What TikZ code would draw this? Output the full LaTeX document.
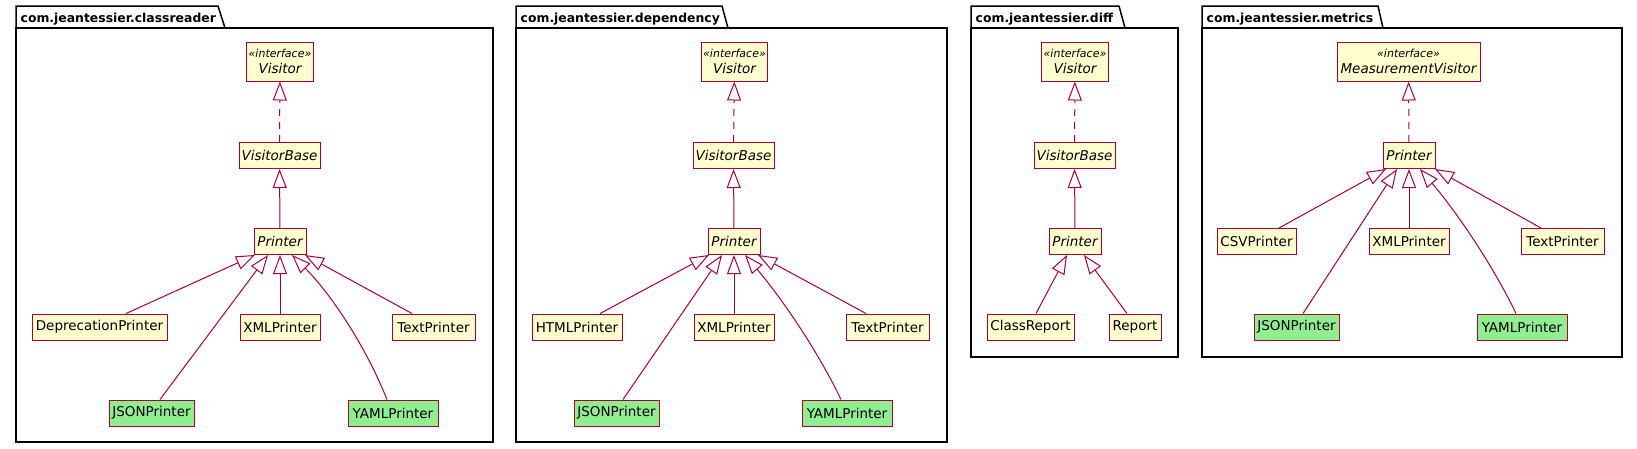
\documentclass[tikz,border=0pt]{standalone}
\usepackage{fontspec}
\setmainfont{DejaVu Sans}
\usetikzlibrary{arrows.meta}
\definecolor{umlred}{HTML}{A80036}
\definecolor{umlyellow}{HTML}{FEFECE}
\definecolor{umlgreen}{HTML}{90EE90}
\tikzset{
  cls/.style={draw=umlred, fill=umlyellow, line width=1pt, minimum height=26pt,
    inner xsep=2pt, inner ysep=0pt, font=\fontsize{13.5}{16}\selectfont},
  grn/.style={cls, fill=umlgreen},
  abs/.style={cls, font=\fontsize{13.5}{16}\selectfont\itshape},
  ifc/.style={cls, minimum height=39pt, align=center, font=\fontsize{13.5}{16}\selectfont\itshape},
  ext/.style={draw=umlred, line width=1pt, -{Triangle[open, length=19pt, width=14pt]}},
  impl/.style={ext, dash pattern=on 7pt off 6pt},
  pkg/.style={draw=black, line width=1.5pt},
  pkgtitle/.style={anchor=base west, inner sep=0pt, font=\fontsize{12.4}{14}\selectfont\bfseries},
}
\newcommand{\stereo}[1]{{\fontsize{11}{12}\selectfont #1}}
\begin{document}
\begin{tikzpicture}[x=1pt, y=-1pt]
\fill[white] (0,0) rectangle (1637,448);
\useasboundingbox (0,0) rectangle (1637,448);

% ---------- packages ----------
\draw[pkg] (16,28) -- (16,6) -- (218,6) -- (225,28);
\draw[pkg] (16,28) rectangle (493,442);
\node[pkgtitle] (t1) at (20.5,22) {com.jeantessier.classreader};

\draw[pkg] (516,28) -- (516,6) -- (722,6) -- (728,28);
\draw[pkg] (516,28) rectangle (947,442);
\node[pkgtitle] (t2) at (520.5,22) {com.jeantessier.dependency};

\draw[pkg] (971,28) -- (971,6) -- (1119,6) -- (1125,28);
\draw[pkg] (971,28) rectangle (1178,357);
\node[pkgtitle] (t3) at (975.5,22) {com.jeantessier.diff};

\draw[pkg] (1202,28) -- (1202,6) -- (1378,6) -- (1383,28);
\draw[pkg] (1202,28) rectangle (1622,357);
\node[pkgtitle] (t4) at (1206.5,22) {com.jeantessier.metrics};

% ---------- classreader ----------
\node[ifc, minimum width=64pt] (v1) at (280,61.5) {\stereo{«interface»}\\Visitor};
\node[abs, minimum width=81pt] (vb1) at (279.5,155.5) {VisitorBase};
\node[abs, minimum width=52pt] (p1) at (280,241.5) {Printer};
\node[cls, minimum width=135pt] (dep1) at (99.5,327) {DeprecationPrinter};
\node[cls, minimum width=80pt] (xml1) at (280,327) {XMLPrinter};
\node[cls, minimum width=83pt] (txt1) at (433.5,327) {TextPrinter};
\node[grn, minimum width=85pt] (json1) at (151.5,413) {JSONPrinter};
\node[grn, minimum width=90pt] (yaml1) at (393,413) {YAMLPrinter};

\draw[impl] (vb1) -- (v1);
\draw[ext] (p1) -- (vb1);
\draw[ext] ([xshift=26.5pt]dep1.north) -- ([xshift=-25pt]p1.south);
\draw[ext] ([xshift=8.5pt]json1.north) -- ([xshift=-12pt]p1.south);
\draw[ext] (xml1) -- (p1);
\draw[ext] ([xshift=-6pt]yaml1.north) .. controls +(-22,-55) and +(38,38) .. ([xshift=12pt]p1.south);
\draw[ext] ([xshift=-21.5pt]txt1.north) -- ([xshift=25pt]p1.south);

% ---------- dependency ----------
\node[ifc, minimum width=65pt] (v2) at (734.5,61.5) {\stereo{«interface»}\\Visitor};
\node[abs, minimum width=81pt] (vb2) at (733.5,155.5) {VisitorBase};
\node[abs, minimum width=52pt] (p2) at (734,241.5) {Printer};
\node[cls, minimum width=90pt] (html2) at (577,327) {HTMLPrinter};
\node[cls, minimum width=80pt] (xml2) at (734,327) {XMLPrinter};
\node[cls, minimum width=83pt] (txt2) at (887.5,327) {TextPrinter};
\node[grn, minimum width=85pt] (json2) at (616.5,413) {JSONPrinter};
\node[grn, minimum width=90pt] (yaml2) at (847,413) {YAMLPrinter};

\draw[impl] (vb2) -- (v2);
\draw[ext] (p2) -- (vb2);
\draw[ext] ([xshift=23pt]html2.north) -- ([xshift=-25pt]p2.south);
\draw[ext] ([xshift=6.5pt]json2.north) -- ([xshift=-12pt]p2.south);
\draw[ext] (xml2) -- (p2);
\draw[ext] ([xshift=-6pt]yaml2.north) .. controls +(-25,-52) and +(34,40) .. ([xshift=11pt]p2.south);
\draw[ext] ([xshift=-21.5pt]txt2.north) -- ([xshift=24pt]p2.south);

% ---------- diff ----------
\node[ifc, minimum width=64pt] (v3) at (1075,61.5) {\stereo{«interface»}\\Visitor};
\node[abs, minimum width=81pt] (vb3) at (1074.5,155.5) {VisitorBase};
\node[abs, minimum width=52pt] (p3) at (1075,241.5) {Printer};
\node[cls, minimum width=87pt] (cr3) at (1030.5,327) {ClassReport};
\node[cls, minimum width=52pt] (rep3) at (1135,327) {Report};

\draw[impl] (vb3) -- (v3);
\draw[ext] (p3) -- (vb3);
\draw[ext] ([xshift=5.5pt]cr3.north) -- ([xshift=-8pt]p3.south);
\draw[ext] ([xshift=-8pt]rep3.north) -- ([xshift=9pt]p3.south);

% ---------- metrics ----------
\node[ifc, minimum width=143pt] (mv4) at (1408.5,61.5) {\stereo{«interface»}\\MeasurementVisitor};
\node[abs, minimum width=52pt] (p4) at (1409,155.5) {Printer};
\node[cls, minimum width=79pt] (csv4) at (1256.5,241.5) {CSVPrinter};
\node[cls, minimum width=80pt] (xml4) at (1409,241.5) {XMLPrinter};
\node[cls, minimum width=83pt] (txt4) at (1562.5,241.5) {TextPrinter};
\node[grn, minimum width=85pt] (json4) at (1296.5,327) {JSONPrinter};
\node[grn, minimum width=90pt] (yaml4) at (1522,327) {YAMLPrinter};

\draw[impl] (p4) -- (mv4);
\draw[ext] ([xshift=22.5pt]csv4.north) -- ([xshift=-23pt]p4.south);
\draw[ext] ([xshift=6.5pt]json4.north) -- ([xshift=-12pt]p4.south);
\draw[ext] (xml4) -- (p4);
\draw[ext] ([xshift=-6pt]yaml4.north) .. controls +(-25,-52) and +(34,40) .. ([xshift=11pt]p4.south);
\draw[ext] ([xshift=-21.5pt]txt4.north) -- ([xshift=26pt]p4.south);
\end{tikzpicture}
\end{document}
